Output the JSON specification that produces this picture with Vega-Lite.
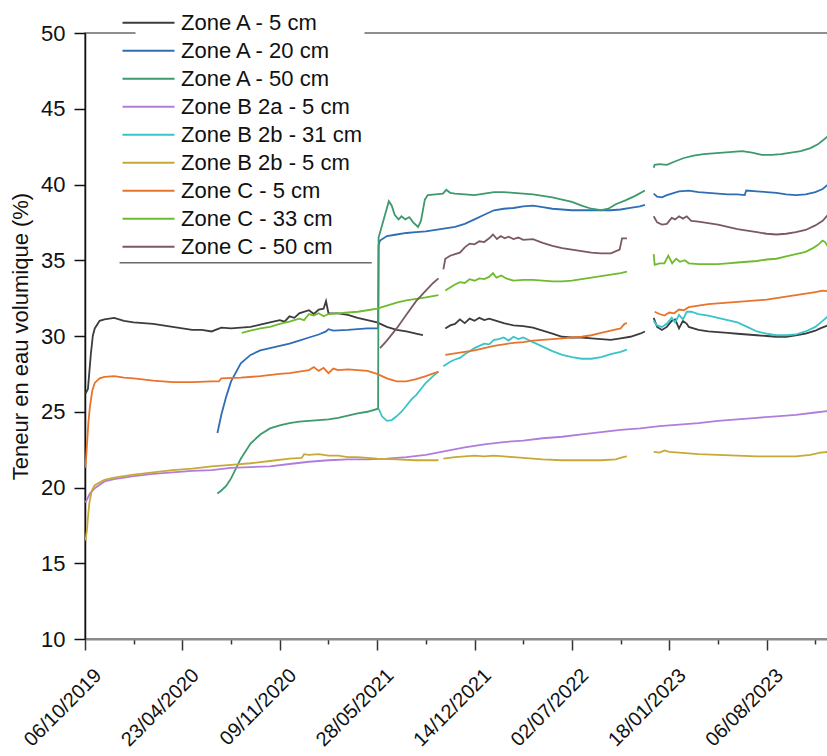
{
"$schema": "https://vega.github.io/schema/vega-lite/v6.json",
"autosize": {"type": "none"},
"padding": {"left": 85, "top": 33, "right": 0, "bottom": 117},
"width": 743,
"height": 606,
"background": "white",
"config": {"font": "Liberation Sans", "view": {"stroke": "#6a6a6a", "strokeWidth": 1.5}},
"layer": [
{
"data": {"values": [
{"s":"Zone A - 5 cm","g":1,"d":"2019-10-07","v":26.2},{"s":"Zone A - 5 cm","g":1,"d":"2019-10-12","v":26.5},{"s":"Zone A - 5 cm","g":1,"d":"2019-10-18","v":28.8},{"s":"Zone A - 5 cm","g":1,"d":"2019-10-22","v":30.0},{"s":"Zone A - 5 cm","g":1,"d":"2019-10-26","v":30.5},{"s":"Zone A - 5 cm","g":1,"d":"2019-11-05","v":31.0},{"s":"Zone A - 5 cm","g":1,"d":"2019-11-15","v":31.1},{"s":"Zone A - 5 cm","g":1,"d":"2019-12-05","v":31.2},{"s":"Zone A - 5 cm","g":1,"d":"2019-12-25","v":31.0},{"s":"Zone A - 5 cm","g":1,"d":"2020-01-14","v":30.9},{"s":"Zone A - 5 cm","g":1,"d":"2020-02-03","v":30.85},{"s":"Zone A - 5 cm","g":1,"d":"2020-02-23","v":30.8},{"s":"Zone A - 5 cm","g":1,"d":"2020-03-14","v":30.7},{"s":"Zone A - 5 cm","g":1,"d":"2020-04-03","v":30.6},{"s":"Zone A - 5 cm","g":1,"d":"2020-04-23","v":30.5},{"s":"Zone A - 5 cm","g":1,"d":"2020-05-13","v":30.4},{"s":"Zone A - 5 cm","g":1,"d":"2020-06-02","v":30.4},{"s":"Zone A - 5 cm","g":1,"d":"2020-06-22","v":30.3},{"s":"Zone A - 5 cm","g":1,"d":"2020-07-12","v":30.55},{"s":"Zone A - 5 cm","g":1,"d":"2020-08-01","v":30.5},{"s":"Zone A - 5 cm","g":1,"d":"2020-08-21","v":30.55},{"s":"Zone A - 5 cm","g":1,"d":"2020-09-10","v":30.6},{"s":"Zone A - 5 cm","g":1,"d":"2020-09-30","v":30.75},{"s":"Zone A - 5 cm","g":1,"d":"2020-10-20","v":30.9},{"s":"Zone A - 5 cm","g":1,"d":"2020-11-09","v":31.05},{"s":"Zone A - 5 cm","g":1,"d":"2020-11-19","v":30.95},{"s":"Zone A - 5 cm","g":1,"d":"2020-11-29","v":31.3},{"s":"Zone A - 5 cm","g":1,"d":"2020-12-09","v":31.2},{"s":"Zone A - 5 cm","g":1,"d":"2020-12-19","v":31.5},{"s":"Zone A - 5 cm","g":1,"d":"2021-01-08","v":31.7},{"s":"Zone A - 5 cm","g":1,"d":"2021-01-18","v":31.45},{"s":"Zone A - 5 cm","g":1,"d":"2021-01-28","v":31.75},{"s":"Zone A - 5 cm","g":1,"d":"2021-02-07","v":31.8},{"s":"Zone A - 5 cm","g":1,"d":"2021-02-12","v":32.3},{"s":"Zone A - 5 cm","g":1,"d":"2021-02-17","v":31.5},{"s":"Zone A - 5 cm","g":1,"d":"2021-03-09","v":31.5},{"s":"Zone A - 5 cm","g":1,"d":"2021-03-29","v":31.4},{"s":"Zone A - 5 cm","g":1,"d":"2021-04-18","v":31.2},{"s":"Zone A - 5 cm","g":1,"d":"2021-05-08","v":31.05},{"s":"Zone A - 5 cm","g":1,"d":"2021-05-28","v":30.9},{"s":"Zone A - 5 cm","g":1,"d":"2021-06-17","v":30.6},{"s":"Zone A - 5 cm","g":1,"d":"2021-07-07","v":30.4},{"s":"Zone A - 5 cm","g":1,"d":"2021-07-27","v":30.3},{"s":"Zone A - 5 cm","g":1,"d":"2021-08-16","v":30.15},{"s":"Zone A - 5 cm","g":1,"d":"2021-08-30","v":30.05},
{"s":"Zone A - 5 cm","g":2,"d":"2021-10-15","v":30.5},{"s":"Zone A - 5 cm","g":2,"d":"2021-10-25","v":30.7},{"s":"Zone A - 5 cm","g":2,"d":"2021-11-04","v":30.8},{"s":"Zone A - 5 cm","g":2,"d":"2021-11-14","v":31.1},{"s":"Zone A - 5 cm","g":2,"d":"2021-11-24","v":30.85},{"s":"Zone A - 5 cm","g":2,"d":"2021-12-04","v":31.15},{"s":"Zone A - 5 cm","g":2,"d":"2021-12-14","v":31.0},{"s":"Zone A - 5 cm","g":2,"d":"2021-12-24","v":31.2},{"s":"Zone A - 5 cm","g":2,"d":"2022-01-03","v":31.05},{"s":"Zone A - 5 cm","g":2,"d":"2022-01-13","v":31.15},{"s":"Zone A - 5 cm","g":2,"d":"2022-01-23","v":31.05},{"s":"Zone A - 5 cm","g":2,"d":"2022-02-12","v":30.85},{"s":"Zone A - 5 cm","g":2,"d":"2022-03-04","v":30.7},{"s":"Zone A - 5 cm","g":2,"d":"2022-03-24","v":30.65},{"s":"Zone A - 5 cm","g":2,"d":"2022-04-13","v":30.55},{"s":"Zone A - 5 cm","g":2,"d":"2022-05-03","v":30.35},{"s":"Zone A - 5 cm","g":2,"d":"2022-05-23","v":30.15},{"s":"Zone A - 5 cm","g":2,"d":"2022-06-12","v":29.95},{"s":"Zone A - 5 cm","g":2,"d":"2022-07-02","v":29.9},{"s":"Zone A - 5 cm","g":2,"d":"2022-07-22","v":29.9},{"s":"Zone A - 5 cm","g":2,"d":"2022-08-11","v":29.85},{"s":"Zone A - 5 cm","g":2,"d":"2022-08-31","v":29.8},{"s":"Zone A - 5 cm","g":2,"d":"2022-09-20","v":29.75},{"s":"Zone A - 5 cm","g":2,"d":"2022-10-10","v":29.85},{"s":"Zone A - 5 cm","g":2,"d":"2022-10-30","v":29.95},{"s":"Zone A - 5 cm","g":2,"d":"2022-11-19","v":30.15},{"s":"Zone A - 5 cm","g":2,"d":"2022-11-29","v":30.3},
{"s":"Zone A - 5 cm","g":3,"d":"2022-12-17","v":31.2},{"s":"Zone A - 5 cm","g":3,"d":"2022-12-24","v":30.6},{"s":"Zone A - 5 cm","g":3,"d":"2023-01-03","v":30.4},{"s":"Zone A - 5 cm","g":3,"d":"2023-01-13","v":30.6},{"s":"Zone A - 5 cm","g":3,"d":"2023-01-23","v":31.0},{"s":"Zone A - 5 cm","g":3,"d":"2023-01-30","v":31.1},{"s":"Zone A - 5 cm","g":3,"d":"2023-02-07","v":30.5},{"s":"Zone A - 5 cm","g":3,"d":"2023-02-15","v":31.0},{"s":"Zone A - 5 cm","g":3,"d":"2023-02-23","v":30.8},{"s":"Zone A - 5 cm","g":3,"d":"2023-02-27","v":30.6},{"s":"Zone A - 5 cm","g":3,"d":"2023-03-19","v":30.4},{"s":"Zone A - 5 cm","g":3,"d":"2023-04-08","v":30.3},{"s":"Zone A - 5 cm","g":3,"d":"2023-04-28","v":30.25},{"s":"Zone A - 5 cm","g":3,"d":"2023-05-18","v":30.2},{"s":"Zone A - 5 cm","g":3,"d":"2023-06-07","v":30.15},{"s":"Zone A - 5 cm","g":3,"d":"2023-06-27","v":30.1},{"s":"Zone A - 5 cm","g":3,"d":"2023-07-17","v":30.05},{"s":"Zone A - 5 cm","g":3,"d":"2023-08-06","v":30.0},{"s":"Zone A - 5 cm","g":3,"d":"2023-08-26","v":29.95},{"s":"Zone A - 5 cm","g":3,"d":"2023-09-15","v":29.95},{"s":"Zone A - 5 cm","g":3,"d":"2023-10-05","v":30.05},{"s":"Zone A - 5 cm","g":3,"d":"2023-10-25","v":30.15},{"s":"Zone A - 5 cm","g":3,"d":"2023-11-14","v":30.35},{"s":"Zone A - 5 cm","g":3,"d":"2023-11-24","v":30.5},{"s":"Zone A - 5 cm","g":3,"d":"2023-12-10","v":30.7},

{"s":"Zone A - 20 cm","g":1,"d":"2020-07-04","v":23.6},{"s":"Zone A - 20 cm","g":1,"d":"2020-07-12","v":24.8},{"s":"Zone A - 20 cm","g":1,"d":"2020-07-22","v":26.0},{"s":"Zone A - 20 cm","g":1,"d":"2020-08-01","v":27.0},{"s":"Zone A - 20 cm","g":1,"d":"2020-08-21","v":28.2},{"s":"Zone A - 20 cm","g":1,"d":"2020-09-10","v":28.75},{"s":"Zone A - 20 cm","g":1,"d":"2020-09-30","v":29.05},{"s":"Zone A - 20 cm","g":1,"d":"2020-10-20","v":29.2},{"s":"Zone A - 20 cm","g":1,"d":"2020-11-09","v":29.35},{"s":"Zone A - 20 cm","g":1,"d":"2020-11-29","v":29.5},{"s":"Zone A - 20 cm","g":1,"d":"2020-12-19","v":29.7},{"s":"Zone A - 20 cm","g":1,"d":"2021-01-08","v":29.9},{"s":"Zone A - 20 cm","g":1,"d":"2021-01-28","v":30.1},{"s":"Zone A - 20 cm","g":1,"d":"2021-02-12","v":30.3},{"s":"Zone A - 20 cm","g":1,"d":"2021-02-17","v":30.45},{"s":"Zone A - 20 cm","g":1,"d":"2021-02-27","v":30.35},{"s":"Zone A - 20 cm","g":1,"d":"2021-03-29","v":30.4},{"s":"Zone A - 20 cm","g":1,"d":"2021-04-18","v":30.45},{"s":"Zone A - 20 cm","g":1,"d":"2021-05-08","v":30.5},{"s":"Zone A - 20 cm","g":1,"d":"2021-05-30","v":30.5},{"s":"Zone A - 20 cm","g":1,"d":"2021-05-31","v":36.0},{"s":"Zone A - 20 cm","g":1,"d":"2021-06-03","v":36.3},{"s":"Zone A - 20 cm","g":1,"d":"2021-06-17","v":36.6},{"s":"Zone A - 20 cm","g":1,"d":"2021-07-07","v":36.7},{"s":"Zone A - 20 cm","g":1,"d":"2021-07-27","v":36.8},{"s":"Zone A - 20 cm","g":1,"d":"2021-08-16","v":36.85},{"s":"Zone A - 20 cm","g":1,"d":"2021-09-05","v":36.9},{"s":"Zone A - 20 cm","g":1,"d":"2021-09-25","v":37.0},{"s":"Zone A - 20 cm","g":1,"d":"2021-10-15","v":37.1},{"s":"Zone A - 20 cm","g":1,"d":"2021-11-04","v":37.2},{"s":"Zone A - 20 cm","g":1,"d":"2021-11-24","v":37.4},{"s":"Zone A - 20 cm","g":1,"d":"2021-12-14","v":37.7},{"s":"Zone A - 20 cm","g":1,"d":"2022-01-03","v":38.0},{"s":"Zone A - 20 cm","g":1,"d":"2022-01-23","v":38.3},{"s":"Zone A - 20 cm","g":1,"d":"2022-02-12","v":38.4},{"s":"Zone A - 20 cm","g":1,"d":"2022-03-04","v":38.45},{"s":"Zone A - 20 cm","g":1,"d":"2022-03-24","v":38.55},{"s":"Zone A - 20 cm","g":1,"d":"2022-04-13","v":38.6},{"s":"Zone A - 20 cm","g":1,"d":"2022-05-03","v":38.5},{"s":"Zone A - 20 cm","g":1,"d":"2022-05-23","v":38.4},{"s":"Zone A - 20 cm","g":1,"d":"2022-06-12","v":38.35},{"s":"Zone A - 20 cm","g":1,"d":"2022-07-02","v":38.3},{"s":"Zone A - 20 cm","g":1,"d":"2022-07-22","v":38.3},{"s":"Zone A - 20 cm","g":1,"d":"2022-08-11","v":38.3},{"s":"Zone A - 20 cm","g":1,"d":"2022-08-31","v":38.3},{"s":"Zone A - 20 cm","g":1,"d":"2022-09-20","v":38.3},{"s":"Zone A - 20 cm","g":1,"d":"2022-10-10","v":38.35},{"s":"Zone A - 20 cm","g":1,"d":"2022-10-30","v":38.45},{"s":"Zone A - 20 cm","g":1,"d":"2022-11-19","v":38.55},{"s":"Zone A - 20 cm","g":1,"d":"2022-11-29","v":38.65},
{"s":"Zone A - 20 cm","g":2,"d":"2022-12-17","v":39.4},{"s":"Zone A - 20 cm","g":2,"d":"2022-12-24","v":39.2},{"s":"Zone A - 20 cm","g":2,"d":"2023-01-03","v":39.15},{"s":"Zone A - 20 cm","g":2,"d":"2023-01-13","v":39.3},{"s":"Zone A - 20 cm","g":2,"d":"2023-01-28","v":39.45},{"s":"Zone A - 20 cm","g":2,"d":"2023-02-07","v":39.55},{"s":"Zone A - 20 cm","g":2,"d":"2023-02-27","v":39.6},{"s":"Zone A - 20 cm","g":2,"d":"2023-03-19","v":39.5},{"s":"Zone A - 20 cm","g":2,"d":"2023-04-08","v":39.45},{"s":"Zone A - 20 cm","g":2,"d":"2023-04-28","v":39.4},{"s":"Zone A - 20 cm","g":2,"d":"2023-05-18","v":39.35},{"s":"Zone A - 20 cm","g":2,"d":"2023-06-07","v":39.35},{"s":"Zone A - 20 cm","g":2,"d":"2023-06-22","v":39.3},{"s":"Zone A - 20 cm","g":2,"d":"2023-06-25","v":39.6},{"s":"Zone A - 20 cm","g":2,"d":"2023-07-17","v":39.55},{"s":"Zone A - 20 cm","g":2,"d":"2023-08-06","v":39.5},{"s":"Zone A - 20 cm","g":2,"d":"2023-08-26","v":39.45},{"s":"Zone A - 20 cm","g":2,"d":"2023-09-15","v":39.35},{"s":"Zone A - 20 cm","g":2,"d":"2023-10-05","v":39.3},{"s":"Zone A - 20 cm","g":2,"d":"2023-10-25","v":39.35},{"s":"Zone A - 20 cm","g":2,"d":"2023-11-14","v":39.5},{"s":"Zone A - 20 cm","g":2,"d":"2023-11-29","v":39.7},{"s":"Zone A - 20 cm","g":2,"d":"2023-12-10","v":40.0},

{"s":"Zone A - 50 cm","g":1,"d":"2020-07-04","v":19.6},{"s":"Zone A - 50 cm","g":1,"d":"2020-07-12","v":19.8},{"s":"Zone A - 50 cm","g":1,"d":"2020-07-22","v":20.1},{"s":"Zone A - 50 cm","g":1,"d":"2020-08-01","v":20.6},{"s":"Zone A - 50 cm","g":1,"d":"2020-08-21","v":21.9},{"s":"Zone A - 50 cm","g":1,"d":"2020-09-10","v":22.9},{"s":"Zone A - 50 cm","g":1,"d":"2020-09-30","v":23.5},{"s":"Zone A - 50 cm","g":1,"d":"2020-10-20","v":23.9},{"s":"Zone A - 50 cm","g":1,"d":"2020-11-09","v":24.1},{"s":"Zone A - 50 cm","g":1,"d":"2020-11-29","v":24.25},{"s":"Zone A - 50 cm","g":1,"d":"2020-12-19","v":24.35},{"s":"Zone A - 50 cm","g":1,"d":"2021-01-08","v":24.4},{"s":"Zone A - 50 cm","g":1,"d":"2021-01-28","v":24.45},{"s":"Zone A - 50 cm","g":1,"d":"2021-02-17","v":24.5},{"s":"Zone A - 50 cm","g":1,"d":"2021-03-09","v":24.6},{"s":"Zone A - 50 cm","g":1,"d":"2021-03-29","v":24.75},{"s":"Zone A - 50 cm","g":1,"d":"2021-04-18","v":24.9},{"s":"Zone A - 50 cm","g":1,"d":"2021-05-08","v":25.0},{"s":"Zone A - 50 cm","g":1,"d":"2021-05-30","v":25.2},{"s":"Zone A - 50 cm","g":1,"d":"2021-05-31","v":36.5},{"s":"Zone A - 50 cm","g":1,"d":"2021-06-07","v":37.3},{"s":"Zone A - 50 cm","g":1,"d":"2021-06-21","v":38.9},{"s":"Zone A - 50 cm","g":1,"d":"2021-06-27","v":38.6},{"s":"Zone A - 50 cm","g":1,"d":"2021-07-03","v":38.0},{"s":"Zone A - 50 cm","g":1,"d":"2021-07-11","v":37.7},{"s":"Zone A - 50 cm","g":1,"d":"2021-07-17","v":37.9},{"s":"Zone A - 50 cm","g":1,"d":"2021-07-25","v":37.7},{"s":"Zone A - 50 cm","g":1,"d":"2021-08-02","v":37.85},{"s":"Zone A - 50 cm","g":1,"d":"2021-08-10","v":37.5},{"s":"Zone A - 50 cm","g":1,"d":"2021-08-20","v":37.2},{"s":"Zone A - 50 cm","g":1,"d":"2021-08-26","v":37.6},{"s":"Zone A - 50 cm","g":1,"d":"2021-08-30","v":38.3},{"s":"Zone A - 50 cm","g":1,"d":"2021-09-03","v":39.0},{"s":"Zone A - 50 cm","g":1,"d":"2021-09-09","v":39.3},{"s":"Zone A - 50 cm","g":1,"d":"2021-09-25","v":39.35},{"s":"Zone A - 50 cm","g":1,"d":"2021-10-10","v":39.4},{"s":"Zone A - 50 cm","g":1,"d":"2021-10-17","v":39.65},{"s":"Zone A - 50 cm","g":1,"d":"2021-10-25","v":39.45},{"s":"Zone A - 50 cm","g":1,"d":"2021-11-04","v":39.4},{"s":"Zone A - 50 cm","g":1,"d":"2021-11-24","v":39.35},{"s":"Zone A - 50 cm","g":1,"d":"2021-12-14","v":39.3},{"s":"Zone A - 50 cm","g":1,"d":"2022-01-03","v":39.4},{"s":"Zone A - 50 cm","g":1,"d":"2022-01-23","v":39.5},{"s":"Zone A - 50 cm","g":1,"d":"2022-02-12","v":39.5},{"s":"Zone A - 50 cm","g":1,"d":"2022-03-04","v":39.45},{"s":"Zone A - 50 cm","g":1,"d":"2022-03-24","v":39.4},{"s":"Zone A - 50 cm","g":1,"d":"2022-04-13","v":39.35},{"s":"Zone A - 50 cm","g":1,"d":"2022-05-03","v":39.25},{"s":"Zone A - 50 cm","g":1,"d":"2022-05-23","v":39.15},{"s":"Zone A - 50 cm","g":1,"d":"2022-06-12","v":39.0},{"s":"Zone A - 50 cm","g":1,"d":"2022-07-02","v":38.85},{"s":"Zone A - 50 cm","g":1,"d":"2022-07-22","v":38.6},{"s":"Zone A - 50 cm","g":1,"d":"2022-08-11","v":38.4},{"s":"Zone A - 50 cm","g":1,"d":"2022-08-31","v":38.3},{"s":"Zone A - 50 cm","g":1,"d":"2022-09-15","v":38.4},{"s":"Zone A - 50 cm","g":1,"d":"2022-09-30","v":38.7},{"s":"Zone A - 50 cm","g":1,"d":"2022-10-20","v":38.95},{"s":"Zone A - 50 cm","g":1,"d":"2022-11-09","v":39.25},{"s":"Zone A - 50 cm","g":1,"d":"2022-11-29","v":39.6},
{"s":"Zone A - 50 cm","g":2,"d":"2022-12-17","v":41.1},{"s":"Zone A - 50 cm","g":2,"d":"2022-12-19","v":41.3},{"s":"Zone A - 50 cm","g":2,"d":"2022-12-29","v":41.35},{"s":"Zone A - 50 cm","g":2,"d":"2023-01-13","v":41.3},{"s":"Zone A - 50 cm","g":2,"d":"2023-01-28","v":41.5},{"s":"Zone A - 50 cm","g":2,"d":"2023-02-17","v":41.75},{"s":"Zone A - 50 cm","g":2,"d":"2023-03-09","v":41.9},{"s":"Zone A - 50 cm","g":2,"d":"2023-03-29","v":42.0},{"s":"Zone A - 50 cm","g":2,"d":"2023-04-18","v":42.05},{"s":"Zone A - 50 cm","g":2,"d":"2023-05-08","v":42.1},{"s":"Zone A - 50 cm","g":2,"d":"2023-05-28","v":42.15},{"s":"Zone A - 50 cm","g":2,"d":"2023-06-17","v":42.2},{"s":"Zone A - 50 cm","g":2,"d":"2023-07-07","v":42.1},{"s":"Zone A - 50 cm","g":2,"d":"2023-07-27","v":41.95},{"s":"Zone A - 50 cm","g":2,"d":"2023-08-16","v":41.95},{"s":"Zone A - 50 cm","g":2,"d":"2023-09-05","v":42.0},{"s":"Zone A - 50 cm","g":2,"d":"2023-09-25","v":42.1},{"s":"Zone A - 50 cm","g":2,"d":"2023-10-15","v":42.2},{"s":"Zone A - 50 cm","g":2,"d":"2023-11-04","v":42.4},{"s":"Zone A - 50 cm","g":2,"d":"2023-11-19","v":42.65},{"s":"Zone A - 50 cm","g":2,"d":"2023-11-29","v":42.9},{"s":"Zone A - 50 cm","g":2,"d":"2023-12-10","v":43.2},

{"s":"Zone B 2a - 5 cm","g":1,"d":"2019-10-07","v":19.0},{"s":"Zone B 2a - 5 cm","g":1,"d":"2019-10-16","v":19.6},{"s":"Zone B 2a - 5 cm","g":1,"d":"2019-10-26","v":19.95},{"s":"Zone B 2a - 5 cm","g":1,"d":"2019-11-15","v":20.4},{"s":"Zone B 2a - 5 cm","g":1,"d":"2019-12-05","v":20.55},{"s":"Zone B 2a - 5 cm","g":1,"d":"2019-12-25","v":20.65},{"s":"Zone B 2a - 5 cm","g":1,"d":"2020-01-14","v":20.75},{"s":"Zone B 2a - 5 cm","g":1,"d":"2020-02-23","v":20.9},{"s":"Zone B 2a - 5 cm","g":1,"d":"2020-04-03","v":21.0},{"s":"Zone B 2a - 5 cm","g":1,"d":"2020-05-13","v":21.1},{"s":"Zone B 2a - 5 cm","g":1,"d":"2020-06-22","v":21.15},{"s":"Zone B 2a - 5 cm","g":1,"d":"2020-08-01","v":21.3},{"s":"Zone B 2a - 5 cm","g":1,"d":"2020-09-10","v":21.35},{"s":"Zone B 2a - 5 cm","g":1,"d":"2020-10-20","v":21.4},{"s":"Zone B 2a - 5 cm","g":1,"d":"2020-11-29","v":21.55},{"s":"Zone B 2a - 5 cm","g":1,"d":"2021-01-08","v":21.7},{"s":"Zone B 2a - 5 cm","g":1,"d":"2021-02-17","v":21.8},{"s":"Zone B 2a - 5 cm","g":1,"d":"2021-03-29","v":21.85},{"s":"Zone B 2a - 5 cm","g":1,"d":"2021-05-08","v":21.85},{"s":"Zone B 2a - 5 cm","g":1,"d":"2021-06-17","v":21.9},{"s":"Zone B 2a - 5 cm","g":1,"d":"2021-07-27","v":22.0},{"s":"Zone B 2a - 5 cm","g":1,"d":"2021-09-05","v":22.15},{"s":"Zone B 2a - 5 cm","g":1,"d":"2021-10-15","v":22.4},{"s":"Zone B 2a - 5 cm","g":1,"d":"2021-11-24","v":22.65},{"s":"Zone B 2a - 5 cm","g":1,"d":"2022-01-03","v":22.85},{"s":"Zone B 2a - 5 cm","g":1,"d":"2022-02-12","v":23.0},{"s":"Zone B 2a - 5 cm","g":1,"d":"2022-03-24","v":23.1},{"s":"Zone B 2a - 5 cm","g":1,"d":"2022-05-03","v":23.25},{"s":"Zone B 2a - 5 cm","g":1,"d":"2022-06-12","v":23.35},{"s":"Zone B 2a - 5 cm","g":1,"d":"2022-07-22","v":23.5},{"s":"Zone B 2a - 5 cm","g":1,"d":"2022-08-31","v":23.65},{"s":"Zone B 2a - 5 cm","g":1,"d":"2022-10-10","v":23.8},{"s":"Zone B 2a - 5 cm","g":1,"d":"2022-11-19","v":23.9},{"s":"Zone B 2a - 5 cm","g":1,"d":"2022-12-29","v":24.05},{"s":"Zone B 2a - 5 cm","g":1,"d":"2023-02-07","v":24.15},{"s":"Zone B 2a - 5 cm","g":1,"d":"2023-03-19","v":24.25},{"s":"Zone B 2a - 5 cm","g":1,"d":"2023-04-28","v":24.4},{"s":"Zone B 2a - 5 cm","g":1,"d":"2023-06-07","v":24.5},{"s":"Zone B 2a - 5 cm","g":1,"d":"2023-07-17","v":24.6},{"s":"Zone B 2a - 5 cm","g":1,"d":"2023-08-26","v":24.7},{"s":"Zone B 2a - 5 cm","g":1,"d":"2023-10-05","v":24.8},{"s":"Zone B 2a - 5 cm","g":1,"d":"2023-11-14","v":24.95},{"s":"Zone B 2a - 5 cm","g":1,"d":"2023-12-10","v":25.05},

{"s":"Zone B 2b - 31 cm","g":1,"d":"2021-05-31","v":25.2},{"s":"Zone B 2b - 31 cm","g":1,"d":"2021-06-07","v":24.7},{"s":"Zone B 2b - 31 cm","g":1,"d":"2021-06-17","v":24.4},{"s":"Zone B 2b - 31 cm","g":1,"d":"2021-06-27","v":24.45},{"s":"Zone B 2b - 31 cm","g":1,"d":"2021-07-07","v":24.7},{"s":"Zone B 2b - 31 cm","g":1,"d":"2021-07-17","v":25.0},{"s":"Zone B 2b - 31 cm","g":1,"d":"2021-07-27","v":25.4},{"s":"Zone B 2b - 31 cm","g":1,"d":"2021-08-06","v":25.8},{"s":"Zone B 2b - 31 cm","g":1,"d":"2021-08-16","v":26.1},{"s":"Zone B 2b - 31 cm","g":1,"d":"2021-08-26","v":26.5},{"s":"Zone B 2b - 31 cm","g":1,"d":"2021-09-05","v":26.9},{"s":"Zone B 2b - 31 cm","g":1,"d":"2021-09-15","v":27.2},{"s":"Zone B 2b - 31 cm","g":1,"d":"2021-09-25","v":27.5},{"s":"Zone B 2b - 31 cm","g":1,"d":"2021-10-01","v":27.65},
{"s":"Zone B 2b - 31 cm","g":2,"d":"2021-10-11","v":28.0},{"s":"Zone B 2b - 31 cm","g":2,"d":"2021-10-25","v":28.3},{"s":"Zone B 2b - 31 cm","g":2,"d":"2021-11-04","v":28.45},{"s":"Zone B 2b - 31 cm","g":2,"d":"2021-11-14","v":28.55},{"s":"Zone B 2b - 31 cm","g":2,"d":"2021-11-24","v":28.8},{"s":"Zone B 2b - 31 cm","g":2,"d":"2021-12-04","v":29.0},{"s":"Zone B 2b - 31 cm","g":2,"d":"2021-12-14","v":29.2},{"s":"Zone B 2b - 31 cm","g":2,"d":"2021-12-24","v":29.35},{"s":"Zone B 2b - 31 cm","g":2,"d":"2022-01-03","v":29.5},{"s":"Zone B 2b - 31 cm","g":2,"d":"2022-01-13","v":29.45},{"s":"Zone B 2b - 31 cm","g":2,"d":"2022-01-23","v":29.75},{"s":"Zone B 2b - 31 cm","g":2,"d":"2022-02-02","v":29.8},{"s":"Zone B 2b - 31 cm","g":2,"d":"2022-02-12","v":29.9},{"s":"Zone B 2b - 31 cm","g":2,"d":"2022-02-22","v":29.7},{"s":"Zone B 2b - 31 cm","g":2,"d":"2022-03-04","v":29.95},{"s":"Zone B 2b - 31 cm","g":2,"d":"2022-03-14","v":29.8},{"s":"Zone B 2b - 31 cm","g":2,"d":"2022-03-24","v":29.9},{"s":"Zone B 2b - 31 cm","g":2,"d":"2022-04-03","v":29.75},{"s":"Zone B 2b - 31 cm","g":2,"d":"2022-04-13","v":29.6},{"s":"Zone B 2b - 31 cm","g":2,"d":"2022-05-03","v":29.3},{"s":"Zone B 2b - 31 cm","g":2,"d":"2022-05-23","v":29.0},{"s":"Zone B 2b - 31 cm","g":2,"d":"2022-06-12","v":28.75},{"s":"Zone B 2b - 31 cm","g":2,"d":"2022-07-02","v":28.6},{"s":"Zone B 2b - 31 cm","g":2,"d":"2022-07-22","v":28.5},{"s":"Zone B 2b - 31 cm","g":2,"d":"2022-08-11","v":28.5},{"s":"Zone B 2b - 31 cm","g":2,"d":"2022-08-31","v":28.6},{"s":"Zone B 2b - 31 cm","g":2,"d":"2022-09-20","v":28.8},{"s":"Zone B 2b - 31 cm","g":2,"d":"2022-10-10","v":28.95},{"s":"Zone B 2b - 31 cm","g":2,"d":"2022-10-23","v":29.1},
{"s":"Zone B 2b - 31 cm","g":3,"d":"2022-12-17","v":31.0},{"s":"Zone B 2b - 31 cm","g":3,"d":"2022-12-24","v":30.7},{"s":"Zone B 2b - 31 cm","g":3,"d":"2023-01-03","v":30.6},{"s":"Zone B 2b - 31 cm","g":3,"d":"2023-01-13","v":30.8},{"s":"Zone B 2b - 31 cm","g":3,"d":"2023-01-23","v":31.2},{"s":"Zone B 2b - 31 cm","g":3,"d":"2023-01-30","v":30.9},{"s":"Zone B 2b - 31 cm","g":3,"d":"2023-02-07","v":31.4},{"s":"Zone B 2b - 31 cm","g":3,"d":"2023-02-15","v":31.1},{"s":"Zone B 2b - 31 cm","g":3,"d":"2023-02-23","v":31.6},{"s":"Zone B 2b - 31 cm","g":3,"d":"2023-03-04","v":31.6},{"s":"Zone B 2b - 31 cm","g":3,"d":"2023-03-19","v":31.45},{"s":"Zone B 2b - 31 cm","g":3,"d":"2023-04-08","v":31.35},{"s":"Zone B 2b - 31 cm","g":3,"d":"2023-04-28","v":31.2},{"s":"Zone B 2b - 31 cm","g":3,"d":"2023-05-18","v":31.05},{"s":"Zone B 2b - 31 cm","g":3,"d":"2023-06-07","v":30.9},{"s":"Zone B 2b - 31 cm","g":3,"d":"2023-06-27","v":30.6},{"s":"Zone B 2b - 31 cm","g":3,"d":"2023-07-17","v":30.3},{"s":"Zone B 2b - 31 cm","g":3,"d":"2023-08-06","v":30.15},{"s":"Zone B 2b - 31 cm","g":3,"d":"2023-08-26","v":30.05},{"s":"Zone B 2b - 31 cm","g":3,"d":"2023-09-15","v":30.05},{"s":"Zone B 2b - 31 cm","g":3,"d":"2023-10-05","v":30.1},{"s":"Zone B 2b - 31 cm","g":3,"d":"2023-10-25","v":30.3},{"s":"Zone B 2b - 31 cm","g":3,"d":"2023-11-14","v":30.6},{"s":"Zone B 2b - 31 cm","g":3,"d":"2023-11-29","v":31.0},{"s":"Zone B 2b - 31 cm","g":3,"d":"2023-12-10","v":31.3},

{"s":"Zone B 2b - 5 cm","g":1,"d":"2019-10-07","v":16.5},{"s":"Zone B 2b - 5 cm","g":1,"d":"2019-10-10","v":17.2},{"s":"Zone B 2b - 5 cm","g":1,"d":"2019-10-12","v":18.0},{"s":"Zone B 2b - 5 cm","g":1,"d":"2019-10-15","v":19.0},{"s":"Zone B 2b - 5 cm","g":1,"d":"2019-10-20","v":19.8},{"s":"Zone B 2b - 5 cm","g":1,"d":"2019-10-26","v":20.15},{"s":"Zone B 2b - 5 cm","g":1,"d":"2019-11-15","v":20.5},{"s":"Zone B 2b - 5 cm","g":1,"d":"2019-12-05","v":20.65},{"s":"Zone B 2b - 5 cm","g":1,"d":"2019-12-25","v":20.75},{"s":"Zone B 2b - 5 cm","g":1,"d":"2020-01-14","v":20.85},{"s":"Zone B 2b - 5 cm","g":1,"d":"2020-02-23","v":21.0},{"s":"Zone B 2b - 5 cm","g":1,"d":"2020-04-03","v":21.15},{"s":"Zone B 2b - 5 cm","g":1,"d":"2020-05-13","v":21.25},{"s":"Zone B 2b - 5 cm","g":1,"d":"2020-06-22","v":21.4},{"s":"Zone B 2b - 5 cm","g":1,"d":"2020-08-01","v":21.5},{"s":"Zone B 2b - 5 cm","g":1,"d":"2020-09-10","v":21.6},{"s":"Zone B 2b - 5 cm","g":1,"d":"2020-10-20","v":21.75},{"s":"Zone B 2b - 5 cm","g":1,"d":"2020-11-29","v":21.9},{"s":"Zone B 2b - 5 cm","g":1,"d":"2020-12-24","v":21.95},{"s":"Zone B 2b - 5 cm","g":1,"d":"2020-12-29","v":22.2},{"s":"Zone B 2b - 5 cm","g":1,"d":"2021-01-08","v":22.15},{"s":"Zone B 2b - 5 cm","g":1,"d":"2021-01-28","v":22.2},{"s":"Zone B 2b - 5 cm","g":1,"d":"2021-02-17","v":22.1},{"s":"Zone B 2b - 5 cm","g":1,"d":"2021-03-09","v":22.1},{"s":"Zone B 2b - 5 cm","g":1,"d":"2021-03-29","v":22.0},{"s":"Zone B 2b - 5 cm","g":1,"d":"2021-04-18","v":22.0},{"s":"Zone B 2b - 5 cm","g":1,"d":"2021-05-28","v":21.9},{"s":"Zone B 2b - 5 cm","g":1,"d":"2021-07-07","v":21.85},{"s":"Zone B 2b - 5 cm","g":1,"d":"2021-08-16","v":21.8},{"s":"Zone B 2b - 5 cm","g":1,"d":"2021-10-01","v":21.8},
{"s":"Zone B 2b - 5 cm","g":2,"d":"2021-10-11","v":21.9},{"s":"Zone B 2b - 5 cm","g":2,"d":"2021-11-04","v":22.0},{"s":"Zone B 2b - 5 cm","g":2,"d":"2021-11-24","v":22.05},{"s":"Zone B 2b - 5 cm","g":2,"d":"2021-12-14","v":22.1},{"s":"Zone B 2b - 5 cm","g":2,"d":"2022-01-03","v":22.05},{"s":"Zone B 2b - 5 cm","g":2,"d":"2022-01-23","v":22.1},{"s":"Zone B 2b - 5 cm","g":2,"d":"2022-02-12","v":22.05},{"s":"Zone B 2b - 5 cm","g":2,"d":"2022-03-04","v":22.0},{"s":"Zone B 2b - 5 cm","g":2,"d":"2022-03-24","v":21.95},{"s":"Zone B 2b - 5 cm","g":2,"d":"2022-05-03","v":21.85},{"s":"Zone B 2b - 5 cm","g":2,"d":"2022-06-12","v":21.8},{"s":"Zone B 2b - 5 cm","g":2,"d":"2022-07-22","v":21.8},{"s":"Zone B 2b - 5 cm","g":2,"d":"2022-08-31","v":21.8},{"s":"Zone B 2b - 5 cm","g":2,"d":"2022-09-30","v":21.85},{"s":"Zone B 2b - 5 cm","g":2,"d":"2022-10-15","v":22.0},{"s":"Zone B 2b - 5 cm","g":2,"d":"2022-10-23","v":22.05},
{"s":"Zone B 2b - 5 cm","g":3,"d":"2022-12-17","v":22.35},{"s":"Zone B 2b - 5 cm","g":3,"d":"2022-12-29","v":22.3},{"s":"Zone B 2b - 5 cm","g":3,"d":"2023-01-08","v":22.45},{"s":"Zone B 2b - 5 cm","g":3,"d":"2023-01-18","v":22.35},{"s":"Zone B 2b - 5 cm","g":3,"d":"2023-02-07","v":22.3},{"s":"Zone B 2b - 5 cm","g":3,"d":"2023-03-19","v":22.2},{"s":"Zone B 2b - 5 cm","g":3,"d":"2023-04-28","v":22.15},{"s":"Zone B 2b - 5 cm","g":3,"d":"2023-06-07","v":22.1},{"s":"Zone B 2b - 5 cm","g":3,"d":"2023-07-17","v":22.05},{"s":"Zone B 2b - 5 cm","g":3,"d":"2023-08-26","v":22.05},{"s":"Zone B 2b - 5 cm","g":3,"d":"2023-10-05","v":22.05},{"s":"Zone B 2b - 5 cm","g":3,"d":"2023-11-04","v":22.15},{"s":"Zone B 2b - 5 cm","g":3,"d":"2023-11-24","v":22.3},{"s":"Zone B 2b - 5 cm","g":3,"d":"2023-12-10","v":22.35},

{"s":"Zone C - 5 cm","g":1,"d":"2019-10-07","v":21.3},{"s":"Zone C - 5 cm","g":1,"d":"2019-10-10","v":22.8},{"s":"Zone C - 5 cm","g":1,"d":"2019-10-13","v":24.3},{"s":"Zone C - 5 cm","g":1,"d":"2019-10-16","v":25.3},{"s":"Zone C - 5 cm","g":1,"d":"2019-10-21","v":26.4},{"s":"Zone C - 5 cm","g":1,"d":"2019-10-26","v":26.9},{"s":"Zone C - 5 cm","g":1,"d":"2019-11-05","v":27.2},{"s":"Zone C - 5 cm","g":1,"d":"2019-11-15","v":27.3},{"s":"Zone C - 5 cm","g":1,"d":"2019-12-05","v":27.35},{"s":"Zone C - 5 cm","g":1,"d":"2019-12-25","v":27.25},{"s":"Zone C - 5 cm","g":1,"d":"2020-01-14","v":27.2},{"s":"Zone C - 5 cm","g":1,"d":"2020-02-23","v":27.05},{"s":"Zone C - 5 cm","g":1,"d":"2020-04-03","v":26.95},{"s":"Zone C - 5 cm","g":1,"d":"2020-05-13","v":26.95},{"s":"Zone C - 5 cm","g":1,"d":"2020-06-22","v":27.0},{"s":"Zone C - 5 cm","g":1,"d":"2020-07-07","v":27.0},{"s":"Zone C - 5 cm","g":1,"d":"2020-07-12","v":27.2},{"s":"Zone C - 5 cm","g":1,"d":"2020-08-21","v":27.25},{"s":"Zone C - 5 cm","g":1,"d":"2020-09-30","v":27.35},{"s":"Zone C - 5 cm","g":1,"d":"2020-11-09","v":27.5},{"s":"Zone C - 5 cm","g":1,"d":"2020-11-29","v":27.55},{"s":"Zone C - 5 cm","g":1,"d":"2020-12-19","v":27.65},{"s":"Zone C - 5 cm","g":1,"d":"2021-01-08","v":27.75},{"s":"Zone C - 5 cm","g":1,"d":"2021-01-18","v":27.95},{"s":"Zone C - 5 cm","g":1,"d":"2021-01-28","v":27.7},{"s":"Zone C - 5 cm","g":1,"d":"2021-02-07","v":27.9},{"s":"Zone C - 5 cm","g":1,"d":"2021-02-17","v":27.55},{"s":"Zone C - 5 cm","g":1,"d":"2021-02-27","v":27.85},{"s":"Zone C - 5 cm","g":1,"d":"2021-03-09","v":27.75},{"s":"Zone C - 5 cm","g":1,"d":"2021-03-29","v":27.8},{"s":"Zone C - 5 cm","g":1,"d":"2021-04-18","v":27.75},{"s":"Zone C - 5 cm","g":1,"d":"2021-05-08","v":27.7},{"s":"Zone C - 5 cm","g":1,"d":"2021-05-28","v":27.5},{"s":"Zone C - 5 cm","g":1,"d":"2021-06-17","v":27.2},{"s":"Zone C - 5 cm","g":1,"d":"2021-07-07","v":27.0},{"s":"Zone C - 5 cm","g":1,"d":"2021-07-27","v":27.0},{"s":"Zone C - 5 cm","g":1,"d":"2021-08-16","v":27.15},{"s":"Zone C - 5 cm","g":1,"d":"2021-09-05","v":27.35},{"s":"Zone C - 5 cm","g":1,"d":"2021-10-01","v":27.65},
{"s":"Zone C - 5 cm","g":2,"d":"2021-10-15","v":28.75},{"s":"Zone C - 5 cm","g":2,"d":"2021-11-04","v":28.85},{"s":"Zone C - 5 cm","g":2,"d":"2021-11-24","v":28.95},{"s":"Zone C - 5 cm","g":2,"d":"2021-12-14","v":29.05},{"s":"Zone C - 5 cm","g":2,"d":"2022-01-03","v":29.2},{"s":"Zone C - 5 cm","g":2,"d":"2022-01-23","v":29.35},{"s":"Zone C - 5 cm","g":2,"d":"2022-02-12","v":29.45},{"s":"Zone C - 5 cm","g":2,"d":"2022-03-04","v":29.55},{"s":"Zone C - 5 cm","g":2,"d":"2022-03-24","v":29.6},{"s":"Zone C - 5 cm","g":2,"d":"2022-04-13","v":29.7},{"s":"Zone C - 5 cm","g":2,"d":"2022-05-03","v":29.75},{"s":"Zone C - 5 cm","g":2,"d":"2022-05-23","v":29.8},{"s":"Zone C - 5 cm","g":2,"d":"2022-06-12","v":29.85},{"s":"Zone C - 5 cm","g":2,"d":"2022-07-02","v":29.9},{"s":"Zone C - 5 cm","g":2,"d":"2022-07-22","v":29.95},{"s":"Zone C - 5 cm","g":2,"d":"2022-08-11","v":30.05},{"s":"Zone C - 5 cm","g":2,"d":"2022-08-31","v":30.2},{"s":"Zone C - 5 cm","g":2,"d":"2022-09-20","v":30.35},{"s":"Zone C - 5 cm","g":2,"d":"2022-10-10","v":30.5},{"s":"Zone C - 5 cm","g":2,"d":"2022-10-18","v":30.8},{"s":"Zone C - 5 cm","g":2,"d":"2022-10-23","v":30.85},
{"s":"Zone C - 5 cm","g":3,"d":"2022-12-19","v":31.6},{"s":"Zone C - 5 cm","g":3,"d":"2022-12-29","v":31.45},{"s":"Zone C - 5 cm","g":3,"d":"2023-01-08","v":31.35},{"s":"Zone C - 5 cm","g":3,"d":"2023-01-18","v":31.55},{"s":"Zone C - 5 cm","g":3,"d":"2023-01-28","v":31.5},{"s":"Zone C - 5 cm","g":3,"d":"2023-02-07","v":31.75},{"s":"Zone C - 5 cm","g":3,"d":"2023-02-17","v":31.7},{"s":"Zone C - 5 cm","g":3,"d":"2023-02-27","v":31.9},{"s":"Zone C - 5 cm","g":3,"d":"2023-03-19","v":32.0},{"s":"Zone C - 5 cm","g":3,"d":"2023-04-08","v":32.1},{"s":"Zone C - 5 cm","g":3,"d":"2023-04-28","v":32.15},{"s":"Zone C - 5 cm","g":3,"d":"2023-05-18","v":32.2},{"s":"Zone C - 5 cm","g":3,"d":"2023-06-07","v":32.25},{"s":"Zone C - 5 cm","g":3,"d":"2023-06-27","v":32.3},{"s":"Zone C - 5 cm","g":3,"d":"2023-07-17","v":32.35},{"s":"Zone C - 5 cm","g":3,"d":"2023-08-06","v":32.4},{"s":"Zone C - 5 cm","g":3,"d":"2023-08-26","v":32.5},{"s":"Zone C - 5 cm","g":3,"d":"2023-09-15","v":32.6},{"s":"Zone C - 5 cm","g":3,"d":"2023-10-05","v":32.7},{"s":"Zone C - 5 cm","g":3,"d":"2023-10-25","v":32.8},{"s":"Zone C - 5 cm","g":3,"d":"2023-11-14","v":32.9},{"s":"Zone C - 5 cm","g":3,"d":"2023-11-29","v":33.0},{"s":"Zone C - 5 cm","g":3,"d":"2023-12-10","v":32.95},

{"s":"Zone C - 33 cm","g":1,"d":"2020-08-23","v":30.2},{"s":"Zone C - 33 cm","g":1,"d":"2020-09-10","v":30.35},{"s":"Zone C - 33 cm","g":1,"d":"2020-09-30","v":30.5},{"s":"Zone C - 33 cm","g":1,"d":"2020-10-20","v":30.6},{"s":"Zone C - 33 cm","g":1,"d":"2020-11-09","v":30.8},{"s":"Zone C - 33 cm","g":1,"d":"2020-11-29","v":30.95},{"s":"Zone C - 33 cm","g":1,"d":"2020-12-19","v":31.15},{"s":"Zone C - 33 cm","g":1,"d":"2020-12-29","v":31.05},{"s":"Zone C - 33 cm","g":1,"d":"2021-01-08","v":31.45},{"s":"Zone C - 33 cm","g":1,"d":"2021-01-18","v":31.35},{"s":"Zone C - 33 cm","g":1,"d":"2021-01-28","v":31.5},{"s":"Zone C - 33 cm","g":1,"d":"2021-02-07","v":31.3},{"s":"Zone C - 33 cm","g":1,"d":"2021-02-17","v":31.45},{"s":"Zone C - 33 cm","g":1,"d":"2021-03-09","v":31.5},{"s":"Zone C - 33 cm","g":1,"d":"2021-03-29","v":31.55},{"s":"Zone C - 33 cm","g":1,"d":"2021-04-18","v":31.6},{"s":"Zone C - 33 cm","g":1,"d":"2021-05-08","v":31.7},{"s":"Zone C - 33 cm","g":1,"d":"2021-05-28","v":31.8},{"s":"Zone C - 33 cm","g":1,"d":"2021-06-17","v":32.0},{"s":"Zone C - 33 cm","g":1,"d":"2021-07-07","v":32.2},{"s":"Zone C - 33 cm","g":1,"d":"2021-07-27","v":32.35},{"s":"Zone C - 33 cm","g":1,"d":"2021-08-16","v":32.45},{"s":"Zone C - 33 cm","g":1,"d":"2021-09-05","v":32.55},{"s":"Zone C - 33 cm","g":1,"d":"2021-10-01","v":32.7},
{"s":"Zone C - 33 cm","g":2,"d":"2021-10-15","v":33.0},{"s":"Zone C - 33 cm","g":2,"d":"2021-10-25","v":33.2},{"s":"Zone C - 33 cm","g":2,"d":"2021-11-04","v":33.4},{"s":"Zone C - 33 cm","g":2,"d":"2021-11-14","v":33.55},{"s":"Zone C - 33 cm","g":2,"d":"2021-11-24","v":33.5},{"s":"Zone C - 33 cm","g":2,"d":"2021-12-04","v":33.75},{"s":"Zone C - 33 cm","g":2,"d":"2021-12-14","v":33.65},{"s":"Zone C - 33 cm","g":2,"d":"2021-12-24","v":33.8},{"s":"Zone C - 33 cm","g":2,"d":"2022-01-03","v":33.75},{"s":"Zone C - 33 cm","g":2,"d":"2022-01-13","v":33.9},{"s":"Zone C - 33 cm","g":2,"d":"2022-01-21","v":34.15},{"s":"Zone C - 33 cm","g":2,"d":"2022-01-28","v":33.85},{"s":"Zone C - 33 cm","g":2,"d":"2022-02-07","v":34.0},{"s":"Zone C - 33 cm","g":2,"d":"2022-02-17","v":33.8},{"s":"Zone C - 33 cm","g":2,"d":"2022-03-04","v":33.65},{"s":"Zone C - 33 cm","g":2,"d":"2022-03-24","v":33.7},{"s":"Zone C - 33 cm","g":2,"d":"2022-04-13","v":33.7},{"s":"Zone C - 33 cm","g":2,"d":"2022-05-03","v":33.65},{"s":"Zone C - 33 cm","g":2,"d":"2022-05-23","v":33.6},{"s":"Zone C - 33 cm","g":2,"d":"2022-06-12","v":33.6},{"s":"Zone C - 33 cm","g":2,"d":"2022-07-02","v":33.65},{"s":"Zone C - 33 cm","g":2,"d":"2022-07-22","v":33.75},{"s":"Zone C - 33 cm","g":2,"d":"2022-08-11","v":33.85},{"s":"Zone C - 33 cm","g":2,"d":"2022-08-31","v":33.95},{"s":"Zone C - 33 cm","g":2,"d":"2022-09-20","v":34.05},{"s":"Zone C - 33 cm","g":2,"d":"2022-10-10","v":34.15},{"s":"Zone C - 33 cm","g":2,"d":"2022-10-23","v":34.25},
{"s":"Zone C - 33 cm","g":3,"d":"2022-12-17","v":35.4},{"s":"Zone C - 33 cm","g":3,"d":"2022-12-19","v":34.7},{"s":"Zone C - 33 cm","g":3,"d":"2022-12-29","v":34.8},{"s":"Zone C - 33 cm","g":3,"d":"2023-01-08","v":34.8},{"s":"Zone C - 33 cm","g":3,"d":"2023-01-16","v":35.3},{"s":"Zone C - 33 cm","g":3,"d":"2023-01-24","v":34.8},{"s":"Zone C - 33 cm","g":3,"d":"2023-02-01","v":35.1},{"s":"Zone C - 33 cm","g":3,"d":"2023-02-09","v":34.9},{"s":"Zone C - 33 cm","g":3,"d":"2023-02-19","v":35.0},{"s":"Zone C - 33 cm","g":3,"d":"2023-02-27","v":34.8},{"s":"Zone C - 33 cm","g":3,"d":"2023-03-19","v":34.75},{"s":"Zone C - 33 cm","g":3,"d":"2023-04-08","v":34.75},{"s":"Zone C - 33 cm","g":3,"d":"2023-04-28","v":34.75},{"s":"Zone C - 33 cm","g":3,"d":"2023-05-18","v":34.8},{"s":"Zone C - 33 cm","g":3,"d":"2023-06-07","v":34.85},{"s":"Zone C - 33 cm","g":3,"d":"2023-06-27","v":34.9},{"s":"Zone C - 33 cm","g":3,"d":"2023-07-17","v":34.95},{"s":"Zone C - 33 cm","g":3,"d":"2023-08-06","v":35.05},{"s":"Zone C - 33 cm","g":3,"d":"2023-08-26","v":35.1},{"s":"Zone C - 33 cm","g":3,"d":"2023-09-15","v":35.25},{"s":"Zone C - 33 cm","g":3,"d":"2023-10-05","v":35.4},{"s":"Zone C - 33 cm","g":3,"d":"2023-10-25","v":35.55},{"s":"Zone C - 33 cm","g":3,"d":"2023-11-09","v":35.8},{"s":"Zone C - 33 cm","g":3,"d":"2023-11-19","v":36.0},{"s":"Zone C - 33 cm","g":3,"d":"2023-11-29","v":36.3},{"s":"Zone C - 33 cm","g":3,"d":"2023-12-04","v":36.2},{"s":"Zone C - 33 cm","g":3,"d":"2023-12-10","v":35.9},

{"s":"Zone C - 50  cm","g":1,"d":"2021-06-03","v":29.2},{"s":"Zone C - 50  cm","g":1,"d":"2021-06-17","v":29.7},{"s":"Zone C - 50  cm","g":1,"d":"2021-07-07","v":30.5},{"s":"Zone C - 50  cm","g":1,"d":"2021-07-27","v":31.4},{"s":"Zone C - 50  cm","g":1,"d":"2021-08-16","v":32.3},{"s":"Zone C - 50  cm","g":1,"d":"2021-09-05","v":33.0},{"s":"Zone C - 50  cm","g":1,"d":"2021-09-20","v":33.5},{"s":"Zone C - 50  cm","g":1,"d":"2021-10-01","v":33.8},
{"s":"Zone C - 50  cm","g":2,"d":"2021-10-11","v":34.4},{"s":"Zone C - 50  cm","g":2,"d":"2021-10-15","v":35.1},{"s":"Zone C - 50  cm","g":2,"d":"2021-10-25","v":35.3},{"s":"Zone C - 50  cm","g":2,"d":"2021-11-04","v":35.4},{"s":"Zone C - 50  cm","g":2,"d":"2021-11-14","v":35.5},{"s":"Zone C - 50  cm","g":2,"d":"2021-11-24","v":35.85},{"s":"Zone C - 50  cm","g":2,"d":"2021-12-04","v":36.1},{"s":"Zone C - 50  cm","g":2,"d":"2021-12-14","v":36.05},{"s":"Zone C - 50  cm","g":2,"d":"2021-12-24","v":36.25},{"s":"Zone C - 50  cm","g":2,"d":"2022-01-03","v":36.2},{"s":"Zone C - 50  cm","g":2,"d":"2022-01-13","v":36.45},{"s":"Zone C - 50  cm","g":2,"d":"2022-01-21","v":36.7},{"s":"Zone C - 50  cm","g":2,"d":"2022-01-29","v":36.4},{"s":"Zone C - 50  cm","g":2,"d":"2022-02-06","v":36.6},{"s":"Zone C - 50  cm","g":2,"d":"2022-02-14","v":36.45},{"s":"Zone C - 50  cm","g":2,"d":"2022-02-22","v":36.55},{"s":"Zone C - 50  cm","g":2,"d":"2022-03-04","v":36.4},{"s":"Zone C - 50  cm","g":2,"d":"2022-03-14","v":36.5},{"s":"Zone C - 50  cm","g":2,"d":"2022-03-24","v":36.35},{"s":"Zone C - 50  cm","g":2,"d":"2022-04-13","v":36.4},{"s":"Zone C - 50  cm","g":2,"d":"2022-05-03","v":36.15},{"s":"Zone C - 50  cm","g":2,"d":"2022-05-23","v":35.95},{"s":"Zone C - 50  cm","g":2,"d":"2022-06-12","v":35.8},{"s":"Zone C - 50  cm","g":2,"d":"2022-07-02","v":35.7},{"s":"Zone C - 50  cm","g":2,"d":"2022-07-22","v":35.6},{"s":"Zone C - 50  cm","g":2,"d":"2022-08-11","v":35.5},{"s":"Zone C - 50  cm","g":2,"d":"2022-08-31","v":35.45},{"s":"Zone C - 50  cm","g":2,"d":"2022-09-20","v":35.45},{"s":"Zone C - 50  cm","g":2,"d":"2022-10-08","v":35.7},{"s":"Zone C - 50  cm","g":2,"d":"2022-10-13","v":36.45},{"s":"Zone C - 50  cm","g":2,"d":"2022-10-23","v":36.45},
{"s":"Zone C - 50  cm","g":3,"d":"2022-12-17","v":37.9},{"s":"Zone C - 50  cm","g":3,"d":"2022-12-24","v":37.5},{"s":"Zone C - 50  cm","g":3,"d":"2023-01-03","v":37.35},{"s":"Zone C - 50  cm","g":3,"d":"2023-01-13","v":37.4},{"s":"Zone C - 50  cm","g":3,"d":"2023-01-23","v":37.8},{"s":"Zone C - 50  cm","g":3,"d":"2023-01-30","v":37.7},{"s":"Zone C - 50  cm","g":3,"d":"2023-02-07","v":37.9},{"s":"Zone C - 50  cm","g":3,"d":"2023-02-15","v":37.75},{"s":"Zone C - 50  cm","g":3,"d":"2023-02-23","v":37.9},{"s":"Zone C - 50  cm","g":3,"d":"2023-03-04","v":37.6},{"s":"Zone C - 50  cm","g":3,"d":"2023-03-19","v":37.55},{"s":"Zone C - 50  cm","g":3,"d":"2023-04-08","v":37.45},{"s":"Zone C - 50  cm","g":3,"d":"2023-04-28","v":37.35},{"s":"Zone C - 50  cm","g":3,"d":"2023-05-18","v":37.2},{"s":"Zone C - 50  cm","g":3,"d":"2023-06-07","v":37.05},{"s":"Zone C - 50  cm","g":3,"d":"2023-06-27","v":36.95},{"s":"Zone C - 50  cm","g":3,"d":"2023-07-17","v":36.85},{"s":"Zone C - 50  cm","g":3,"d":"2023-08-06","v":36.75},{"s":"Zone C - 50  cm","g":3,"d":"2023-08-26","v":36.7},{"s":"Zone C - 50  cm","g":3,"d":"2023-09-15","v":36.75},{"s":"Zone C - 50  cm","g":3,"d":"2023-10-05","v":36.85},{"s":"Zone C - 50  cm","g":3,"d":"2023-10-25","v":37.0},{"s":"Zone C - 50  cm","g":3,"d":"2023-11-14","v":37.3},{"s":"Zone C - 50  cm","g":3,"d":"2023-11-29","v":37.6},{"s":"Zone C - 50  cm","g":3,"d":"2023-12-10","v":38.0}
]},
"mark": {"type": "line", "strokeWidth": 1.8, "clip": true},
"encoding": {
"x": {"field": "d", "type": "temporal",
 "scale": {"type": "utc", "domain": [{"year": 2019, "month": 10, "date": 6, "utc": true}, {"year": 2023, "month": 12, "date": 10, "utc": true}]},
 "axis": {"title": null, "grid": false,
  "values": [{"year":2019,"month":10,"date":6,"utc":true},{"year":2020,"month":1,"date":14,"utc":true},{"year":2020,"month":4,"date":23,"utc":true},{"year":2020,"month":8,"date":1,"utc":true},{"year":2020,"month":11,"date":9,"utc":true},{"year":2021,"month":2,"date":17,"utc":true},{"year":2021,"month":5,"date":28,"utc":true},{"year":2021,"month":9,"date":5,"utc":true},{"year":2021,"month":12,"date":14,"utc":true},{"year":2022,"month":3,"date":24,"utc":true},{"year":2022,"month":7,"date":2,"utc":true},{"year":2022,"month":10,"date":10,"utc":true},{"year":2023,"month":1,"date":18,"utc":true},{"year":2023,"month":4,"date":28,"utc":true},{"year":2023,"month":8,"date":6,"utc":true},{"year":2023,"month":11,"date":14,"utc":true}],
  "labelExpr": "round((datum.value - 1570320000000) / 86400000) % 200 === 0 ? utcFormat(datum.value, '%d/%m/%Y') : ''",
  "labelAngle": -45, "labelAlign": "right", "labelBaseline": "middle", "labelFontSize": 20, "labelColor": "#111",
  "labelPadding": 22, "labelOffset": 13, "labelOverlap": false, "labelBound": false, "labelFlush": false,
  "tickSize": {"condition": {"test": "round((datum.value - 1570320000000) / 86400000) % 200 === 0", "value": 11}, "value": 5},
  "tickColor": "#333", "tickWidth": 1.5, "domainColor": "#888", "domainWidth": 2}},
"y": {"field": "v", "type": "quantitative",
 "scale": {"domain": [10, 50], "nice": false, "zero": false},
 "axis": {"title": "Teneur en eau volumique (%)", "grid": false,
  "values": [10,12.5,15,17.5,20,22.5,25,27.5,30,32.5,35,37.5,40,42.5,45,47.5,50],
  "format": "d",
  "labelExpr": "datum.value % 5 === 0 ? datum.label : ''",
  "labelFontSize": 22, "labelColor": "#111", "labelPadding": 9,
  "tickSize": {"condition": {"test": "datum.value % 5 === 0", "value": 11}, "value": 5},
  "tickColor": "#111", "tickWidth": 1.5, "domainColor": "#111", "domainWidth": 1.5,
  "titleFontSize": 22, "titleFontWeight": "normal", "titleColor": "#111",
  "titleAngle": 270, "titleAlign": "center", "titleBaseline": "middle", "titleX": -65, "titleY": 303}},
"color": {"field": "s", "type": "nominal",
 "scale": {"domain": ["Zone A - 5 cm","Zone A - 20 cm","Zone A - 50 cm","Zone B 2a - 5 cm","Zone B 2b - 31 cm","Zone B 2b - 5 cm","Zone C - 5 cm","Zone C - 33 cm","Zone C - 50  cm"],
  "range": ["#3c3c3c","#2f6db5","#3d9a6c","#b07ddc","#38c4c8","#c9a936","#e8742c","#6fbb2e","#7a5a5e"]},
 "legend": {"title": null, "orient": "none", "legendX": 50.5, "legendY": -23.3, "direction": "vertical",
  "fillColor": "white", "padding": 2, "labelFontSize": 22, "labelColor": "#111", "labelLimit": 400,
  "symbolType": "M-5.2,0H5.2", "symbolSize": 100, "symbolStrokeWidth": 2, "rowPadding": 6, "labelOffset": 21.5}},
"detail": {"field": "g", "type": "nominal"}
}
},
{
"data": {"values": [{"a": 1}]},
"mark": {"type": "rule", "color": "#6a6a6a", "strokeWidth": 1.5},
"encoding": {
"x": {"datum": {"year": 2019, "month": 12, "date": 16, "utc": true}, "type": "temporal"},
"x2": {"datum": {"year": 2021, "month": 5, "date": 17, "utc": true}},
"y": {"datum": 34.84, "type": "quantitative"}
}
}
]
}
